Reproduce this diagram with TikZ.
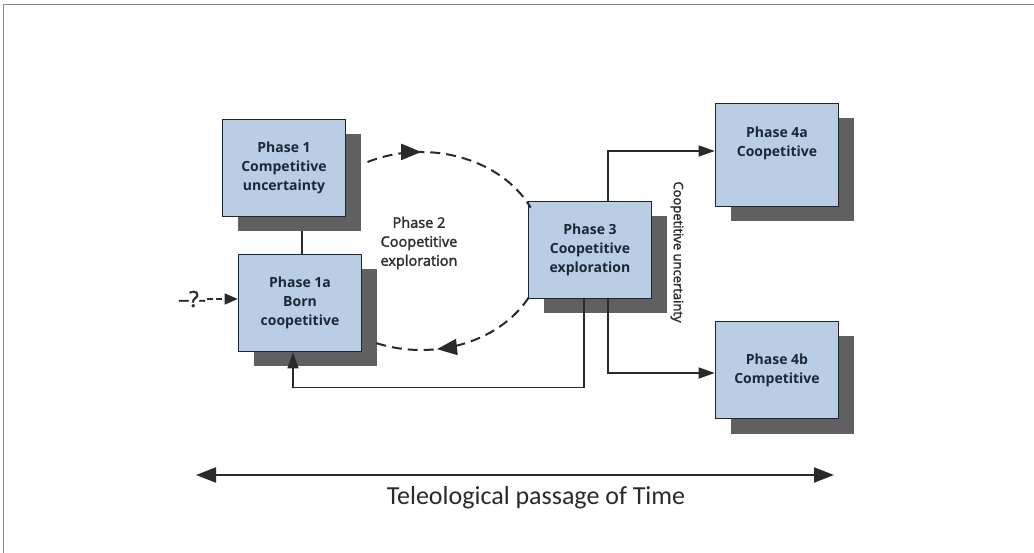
\documentclass[tikz,border=0pt]{standalone}
\usepackage{fontspec}
\setmainfont{Open Sans}
\newfontfamily\boxfont{Open Sans}
\newfontfamily\labfont{Open Sans}[FakeBold=2]
\newfontfamily\timefont{Carlito}
\usetikzlibrary{arrows.meta,shadows,decorations.markings,backgrounds}
\definecolor{boxfill}{HTML}{B9CDE5}
\definecolor{boxborder}{HTML}{1E2633}
\definecolor{shadowgray}{HTML}{606060}
\definecolor{boxtext}{HTML}{1C2838}
\definecolor{linecol}{HTML}{2A2A2A}
\definecolor{labelcol}{HTML}{2E2E2E}
\definecolor{framecol}{HTML}{8A8A8A}
\begin{document}
\begin{tikzpicture}[x=1pt,y=1pt,
  phase/.style={draw=boxborder, line width=1.6pt, fill=boxfill,
    minimum width=123pt, minimum height=97pt, inner sep=2pt, align=center,
    font=\boxfont\bfseries\fontsize{14}{19}\selectfont, text=boxtext,
    drop shadow={shadow xshift=15pt, shadow yshift=-15pt, opacity=1, fill=shadowgray}},
  boxtxt/.style={align=center, inner sep=0pt, font=\boxfont\bfseries\fontsize{14}{19}\selectfont, text=boxtext},
  conn/.style={draw=linecol, line width=1.4pt, -{Triangle[length=16pt,width=11pt]}},
  dashline/.style={draw=linecol, line width=2pt, dash pattern=on 10pt off 6pt},
  label/.style={align=center, text=labelcol, font=\labfont\fontsize{14.5}{19}\selectfont},
]
\useasboundingbox (0,0) rectangle (1034,-553);
\begin{pgfonlayer}{background}
  \fill[white] (0,0) rectangle (1034,-553);
\end{pgfonlayer}
\draw[framecol, line width=1.5pt] (3.5,-553) -- (3.5,-4.5) -- (1034,-4.5);

% boxes
\node[phase] (p1) at (284,-168) {Phase 1\\Competitive\\uncertainty};
\node[phase] (p1a) at (300,-303) {Phase 1a\\Born\\coopetitive};
\node[phase] (p3) at (590,-250) {Phase 3\\Coopetitive\\exploration};
\node[phase, minimum height=103pt] (p4a) at (777,-155) {};
\node[boxtxt, anchor=north] (p4at) at ([yshift=-24pt]p4a.north) {Phase 4a\\Coopetitive};
\node[phase] (p4b) at (777,-370) {Phase 4b\\Competitive};

% link phase 1 -> phase 1a (behind shadows)
\coordinate (x302) at (302,0);
\begin{pgfonlayer}{background}
  \draw[linecol, line width=1.6pt] (p1.south -| x302) -- (p1a.north -| x302);
\end{pgfonlayer}

% phase 2 cycle
\coordinate (c2) at (421,-251);
\draw[dashline, decoration={markings, mark=at position 0.3 with {\arrow{Triangle[length=20pt,width=16pt]}}}, postaction={decorate}]
  ([shift={(116:122pt and 99pt)}]c2) arc[start angle=116, end angle=26, x radius=122pt, y radius=99pt];
\draw[dashline, decoration={markings, mark=at position 0.62 with {\arrow{Triangle[length=20pt,width=16pt]}}}, postaction={decorate}]
  ([shift={(-28:122pt and 99pt)}]c2) arc[start angle=-28, end angle=-114, x radius=122pt, y radius=99pt];
\node[label] (p2) at (419,-243) {Phase 2\\Coopetitive\\exploration};

% entry
\node[text=linecol, font=\labfont\fontsize{22}{24}\selectfont, inner sep=1pt] (q) at (192,-299) {–?-};
\draw[linecol, line width=1.4pt, dash pattern=on 6pt off 3pt, -{Triangle[length=13pt,width=11pt]}] (q.east) -- ([yshift=4pt]p1a.west);

% phase 3 outcomes
\draw[conn] ([xshift=18pt]p3.north) |- ([yshift=4pt]p4a.west);
\draw[conn] ([xshift=18pt]p3.south) |- ([yshift=-3pt]p4b.west);
\coordinate (p3b) at ([xshift=-6pt]p3.south);
\coordinate (p1ab) at ([xshift=-7pt]p1a.south);
\draw[conn] (p3b) -- ++(0,-88) -| (p1ab);
\node[label, rotate=-90, font=\labfont\fontsize{13}{14}\selectfont] (cu) at (677,-252) {Coopetitive uncertainty};

% time axis
\coordinate (tl) at (196,-475);
\coordinate (tr) at (834,-475);
\draw[linecol, line width=2pt, {Triangle[length=20pt,width=15pt]}-{Triangle[length=20pt,width=15pt]}] (tl) -- (tr);
\node[text=linecol, font=\timefont\fontsize{26}{30}\selectfont] (time) at (536,-498) {Teleological passage of Time};
\end{tikzpicture}
\end{document}
